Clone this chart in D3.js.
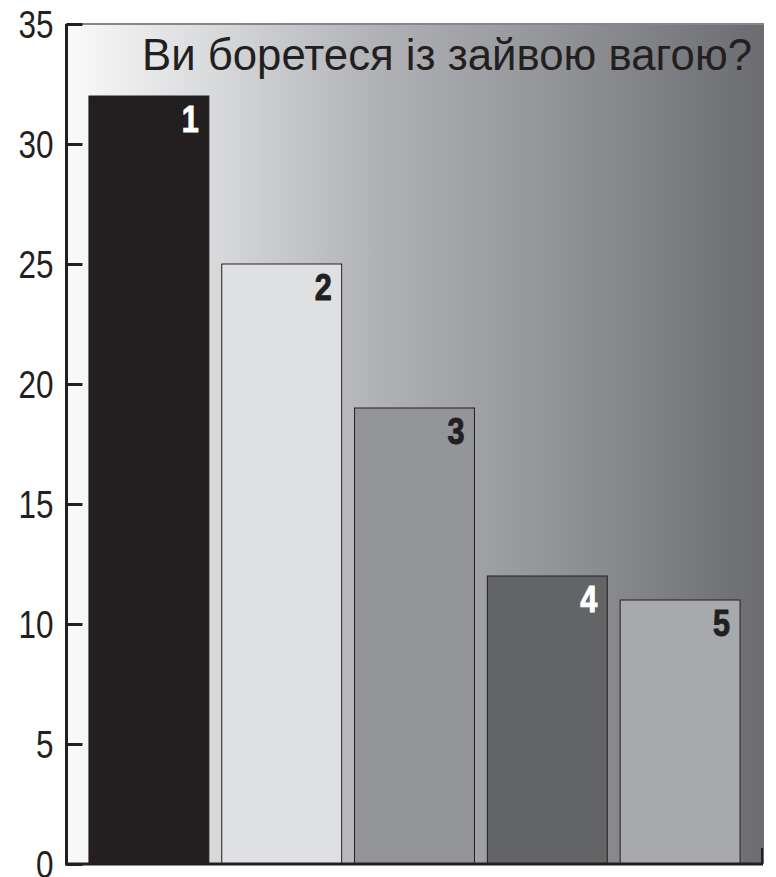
<!DOCTYPE html>
<html><head><meta charset="utf-8">
<script src="https://cdn.jsdelivr.net/npm/d3@7"></script>
<style>body{margin:0;background:#fff}svg{display:block}</style>
</head><body>
<script>
const categories = ["1","2","3","4","5"];
const values = [32, 25, 19, 12, 11];
const barColors = ["#231f20","#dfe0e2","#939598","#636466","#a7a9ac"];
const labelColors = ["#ffffff","#231f20","#231f20","#ffffff","#231f20"];
const yTicks = [0,5,10,15,20,25,30,35];
const title = "Ви боретеся із зайвою вагою?";

const W = 776, H = 877;
const FONT = "'Liberation Sans Narrow', 'Liberation Sans', Arial, sans-serif";
const svg = d3.select("body").append("svg").attr("width", W).attr("height", H);
const x = d3.scaleBand().domain(categories).range([82.5, 746.5]).paddingInner(0.097).paddingOuter(0.0485);
const y = d3.scaleLinear().domain([0,35]).range([864, 24]);
const left = 66.5, right = 764;

const defs = svg.append("defs");
const g = defs.append("linearGradient").attr("id","bg").attr("x1","0").attr("x2","1").attr("y1","0").attr("y2","0");
[[0,"#fafafa"],[0.2,"#dadbdd"],[0.45,"#b0b1b5"],[0.7,"#939498"],[1,"#6b6c70"]].forEach(([o,c])=>g.append("stop").attr("offset",o).attr("stop-color",c));

svg.append("rect").attr("x",left).attr("y",y(35)).attr("width",right-left).attr("height",y(0)-y(35)).attr("fill","url(#bg)");
svg.append("line").attr("x1",left).attr("x2",right).attr("y1",y(35)).attr("y2",y(35)).attr("stroke","#85868a").attr("stroke-width",2);

svg.selectAll("rect.bar").data(values).enter().append("rect").attr("class","bar")
  .attr("x",(d,i)=>x(categories[i])).attr("y",d=>y(d)).attr("width",x.bandwidth()).attr("height",d=>y(0)-y(d))
  .attr("fill",(d,i)=>barColors[i]).attr("stroke","#231f20").attr("stroke-width",1);

svg.selectAll("text.lab").data(values).enter().append("text").attr("class","lab")
  .attr("x",(d,i)=>x(categories[i])+x.bandwidth()-10).attr("y",d=>y(d)+36)
  .attr("text-anchor","end").attr("font-family",FONT)
  .attr("font-weight","bold").attr("font-size",37).attr("fill",(d,i)=>labelColors[i])
  .attr("stroke",(d,i)=>labelColors[i]).attr("stroke-width",1)
  .attr("textLength",17).attr("lengthAdjust","spacingAndGlyphs")
  .text((d,i)=>categories[i]);

const ax = svg.append("g").attr("transform",`translate(${left},0)`)
  .call(d3.axisLeft(y).tickValues(yTicks).tickSize(-16).tickPadding(13));
ax.select(".domain").attr("stroke","#231f20").attr("stroke-width",3).attr("d",`M0,${y(35)}V${y(0)}`);
ax.selectAll(".tick line").attr("stroke","#231f20").attr("stroke-width",3);
ax.selectAll(".tick text").attr("font-family",FONT)
  .attr("font-size",38).attr("fill","#231f20").attr("dy","0.35em")
  .attr("textLength",d=>String(d).length*17.5).attr("lengthAdjust","spacingAndGlyphs");

svg.append("line").attr("x1",left-1.5).attr("x2",right-1).attr("y1",y(0)).attr("y2",y(0)).attr("stroke","#231f20").attr("stroke-width",3);
svg.append("line").attr("x1",right-2).attr("x2",right-2).attr("y1",y(0)-16).attr("y2",y(0)+1).attr("stroke","#231f20").attr("stroke-width",2);

svg.append("text").attr("x",752).attr("y",70).attr("text-anchor","end")
  .attr("font-family",FONT).attr("font-size",45)
  .attr("fill","#231f20").attr("textLength",610).attr("lengthAdjust","spacingAndGlyphs").text(title);
</script>
</body></html>
